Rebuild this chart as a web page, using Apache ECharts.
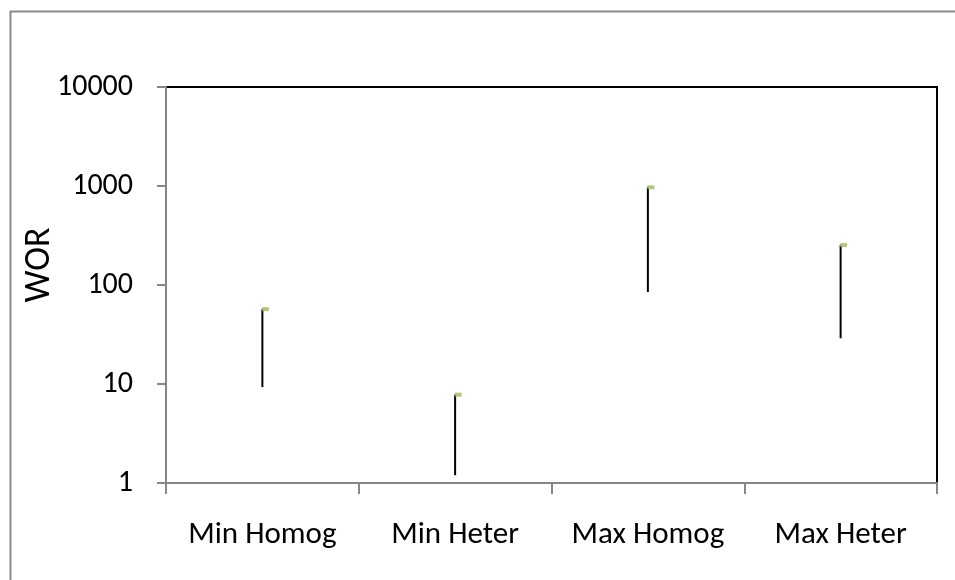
<!DOCTYPE html>
<html>
<head>
<meta charset="utf-8">
<script src="https://cdn.jsdelivr.net/npm/echarts@6/dist/echarts.min.js"></script>
<style>
html,body{margin:0;padding:0;background:#fff;}
#chart{width:955px;height:580px;}
</style>
</head>
<body>
<div id="chart"></div>
<script>
var categories = ['Min Homog', 'Min Heter', 'Max Homog', 'Max Heter'];
var lowValues = [9.3, 1.2, 85, 29];
var highValues = [57, 7.8, 970, 253];
var closeValues = [57, 7.8, 970, 253];
var yTickValues = [1, 10, 100, 1000, 10000];

var FONT = "Carlito, 'Liberation Sans Narrow', 'Open Sans', sans-serif";

var rangeData = categories.map(function (c, i) { return [i, lowValues[i], highValues[i]]; });
var closeData = categories.map(function (c, i) { return [i, closeValues[i]]; });

var chart = echarts.init(document.getElementById('chart'));
chart.setOption({
  animation: false,
  backgroundColor: '#ffffff',
  grid: {
    left: 166, top: 87, right: 18, bottom: 97,
    show: true, borderColor: '#000000', borderWidth: 2, backgroundColor: 'transparent'
  },
  graphic: [
    {
      type: 'rect', left: 8, top: 9, z: -10,
      shape: { x: 0, y: 0, width: 1000, height: 1000 },
      style: { fill: 'none', stroke: '#8a8a8a', lineWidth: 2 }
    },
    {
      type: 'text', x: 40, y: 265, rotation: Math.PI / 2,
      style: {
        text: 'WOR', font: '36px ' + FONT, fill: '#000000',
        align: 'center', verticalAlign: 'middle'
      }
    }
  ],
  xAxis: {
    type: 'category',
    data: categories,
    boundaryGap: true,
    axisLine: { lineStyle: { color: '#868686', width: 2 } },
    axisTick: { show: true, interval: 0, length: 11, lineStyle: { color: '#868686', width: 2 } },
    axisLabel: { interval: 0, hideOverlap: false, color: '#000000', fontSize: 31, fontFamily: FONT, margin: 37 },
    splitLine: { show: false }
  },
  yAxis: {
    type: 'log',
    logBase: 10,
    min: 1,
    max: 10000,
    axisLine: { show: true, lineStyle: { color: '#868686', width: 2 } },
    axisTick: { show: true, length: 9, lineStyle: { color: '#868686', width: 2 } },
    axisLabel: {
      color: '#000000', fontSize: 30, fontFamily: FONT, margin: 33,
      formatter: function (v) { return String(Math.round(v)); }
    },
    splitLine: { show: false }
  },
  series: [
    {
      type: 'custom',
      data: rangeData,
      encode: { x: 0, y: [1, 2] },
      renderItem: function (params, api) {
        var lo = api.coord([api.value(0), api.value(1)]);
        var hi = api.coord([api.value(0), api.value(2)]);
        return {
          type: 'line',
          shape: { x1: lo[0], y1: lo[1], x2: hi[0], y2: hi[1] },
          style: { stroke: '#000000', lineWidth: 2 }
        };
      },
      z: 2
    },
    {
      type: 'scatter',
      data: closeData,
      symbol: 'rect',
      symbolSize: [7, 4],
      symbolOffset: [3, 0],
      itemStyle: { color: '#9BBB59' },
      z: 3
    }
  ]
});
</script>
</body>
</html>
